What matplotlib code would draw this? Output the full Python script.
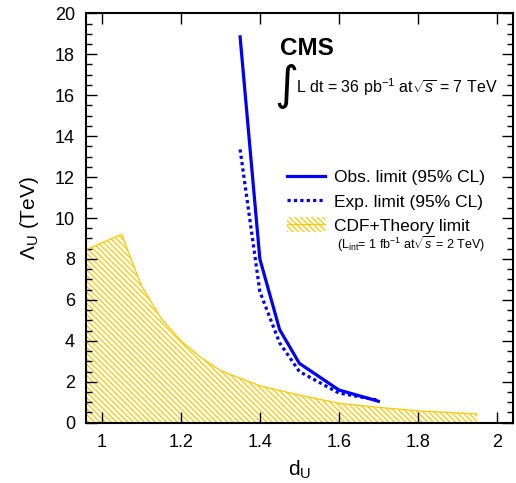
import matplotlib
matplotlib.use('Agg')
import matplotlib.pyplot as plt
from matplotlib.lines import Line2D
from matplotlib.patches import Patch
from matplotlib.ticker import MultipleLocator

plt.rcParams['font.family'] = ['Liberation Sans', 'DejaVu Sans']
plt.rcParams['mathtext.fontset'] = 'custom'
plt.rcParams['mathtext.rm'] = 'Liberation Sans'
plt.rcParams['mathtext.it'] = 'Liberation Sans:italic'
plt.rcParams['mathtext.bf'] = 'Liberation Sans:bold'
plt.rcParams['mathtext.sf'] = 'Liberation Sans'
plt.rcParams['hatch.linewidth'] = 0.9

# ---- data ----
obs_du = [1.35, 1.40, 1.45, 1.50, 1.60, 1.70]
obs_lambda = [18.85, 8.0, 4.55, 2.9, 1.6, 1.05]

exp_du = [1.35, 1.40, 1.45, 1.50, 1.60, 1.70]
exp_lambda = [13.35, 6.4, 3.9, 2.5, 1.45, 1.1]

cdf_du = [0.95, 1.05, 1.10, 1.15, 1.20, 1.25, 1.30, 1.40, 1.50, 1.60, 1.70, 1.80, 1.95]
cdf_lambda = [8.37, 9.2, 6.7, 5.1, 4.0, 3.2, 2.55, 1.8, 1.35, 0.95, 0.75, 0.58, 0.43]

x_ticks = [1.0, 1.2, 1.4, 1.6, 1.8, 2.0]
x_tick_labels = ['1', '1.2', '1.4', '1.6', '1.8', '2']
y_ticks = [0, 2, 4, 6, 8, 10, 12, 14, 16, 18, 20]

BLUE = '#0000FF'
YELLOW = '#FFC800'
HATCH = '\\' * 6

fig = plt.figure(figsize=(5.16, 4.83), dpi=100)
ax = fig.add_axes([0.1667, 0.1248, 0.8269, 0.8477])

ax.fill_between(cdf_du, 0, cdf_lambda, facecolor='none', edgecolor=YELLOW,
                hatch=HATCH, linewidth=0, zorder=1)
ax.plot(cdf_du, cdf_lambda, color=YELLOW, lw=0.9, zorder=2)

ax.plot(obs_du, obs_lambda, color=BLUE, lw=2.3, zorder=3)
ax.plot(exp_du, exp_lambda, color=BLUE, lw=2.3, ls=(0, (1, 1)),
        dash_capstyle='butt', zorder=3)

ax.set_xlim(0.96, 2.04)
ax.set_ylim(0, 20)
ax.set_xticks(x_ticks)
ax.set_xticklabels(x_tick_labels)
ax.set_yticks(y_ticks)
ax.yaxis.set_minor_locator(MultipleLocator(0.5))
ax.tick_params(which='both', direction='in', top=True, right=True,
               labelsize=13, width=1)
ax.tick_params(which='major', length=8, pad=8)
ax.tick_params(which='minor', length=4.5)
for s in ax.spines.values():
    s.set_linewidth(1.5)

ax.set_xlabel(r'd$_{\mathrm{U}}$', fontsize=15, labelpad=6)
ax.set_ylabel(r'$\Lambda_{\mathrm{U}}$ (TeV)', fontsize=15, labelpad=10)

# legend
h_obs = Line2D([], [], color=BLUE, lw=2.3)
h_exp = Line2D([], [], color=BLUE, lw=2.3, ls=(0, (1, 1)), dash_capstyle='butt')
h_cdf = (Patch(facecolor='none', edgecolor=YELLOW, hatch=HATCH, linewidth=0),
         Line2D([], [], color=YELLOW, lw=0.9))
leg = ax.legend([h_obs, h_exp, h_cdf],
                ['Obs. limit (95% CL)', 'Exp. limit (95% CL)', 'CDF+Theory limit'],
                loc='upper left', bbox_to_anchor=(0.471, 0.62), frameon=False,
                fontsize=12.5, handlelength=2.2, handleheight=0.95,
                handletextpad=0.5, labelspacing=0.45, borderpad=0,
                borderaxespad=0)

ax.text(0.588, 0.4365, r'(L$_{\mathrm{int}}$= 1 fb$^{-1}$ at$\sqrt{s}$ = 2 TeV)',
        transform=ax.transAxes, fontsize=9, va='center', ha='left')

ax.text(0.455, 0.898, 'CMS', transform=ax.transAxes, fontsize=17.5,
        fontweight='bold', va='baseline', ha='left')
ax.text(0.441, 0.79, '\u222b', transform=ax.transAxes, fontsize=33,
        family=['DejaVu Sans'], va='baseline', ha='left')
ax.text(0.492, 0.805, r'L dt = 36 pb$^{-1}$ at$\sqrt{s}$ = 7 TeV',
        transform=ax.transAxes, fontsize=11.5, va='baseline', ha='left')

fig.savefig('out.png', dpi=100)
